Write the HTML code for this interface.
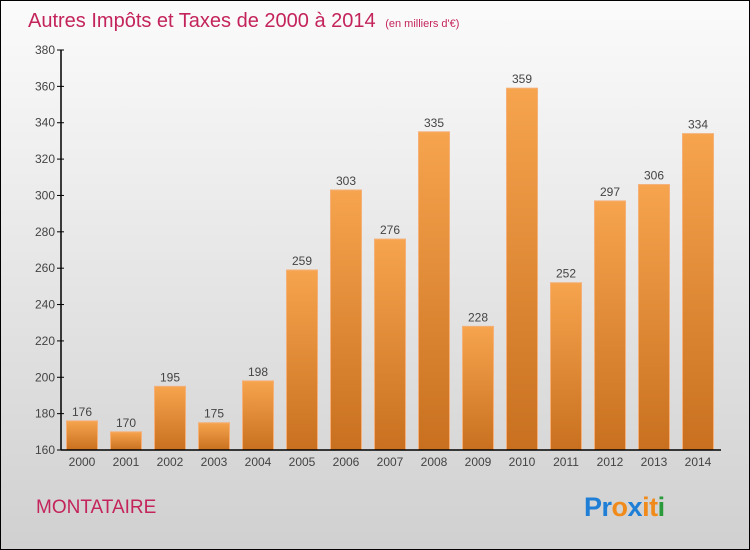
<!DOCTYPE html>
<html><head><meta charset="utf-8"><style>
body{margin:0}
svg{display:block;font-family:"Liberation Sans",sans-serif}
</style></head><body>
<svg width="750" height="550" viewBox="0 0 750 550">
<defs>
<linearGradient id="bg" x1="0" y1="0" x2="0" y2="1"><stop offset="0" stop-color="#fbfbfb"/><stop offset="1" stop-color="#d0d0d0"/></linearGradient>
<linearGradient id="bar" x1="0" y1="0" x2="0" y2="1"><stop offset="0" stop-color="#f7a44e"/><stop offset="1" stop-color="#c8701f"/></linearGradient>
</defs>
<rect x="0.5" y="0.5" width="749" height="549" fill="url(#bg)" stroke="#000"/>
<text x="28" y="27" font-size="20" fill="#c4245c">Autres Impôts et Taxes de 2000 à 2014 <tspan font-size="11" dx="4">(en milliers d'€)</tspan></text>
<g id="yaxis"></g><g id="bars"></g><g id="xaxis"></g>
<text x="36" y="513" font-size="19" fill="#c4245c">MONTATAIRE</text>
<text x="584" y="516" font-size="27" font-weight="bold" letter-spacing="-0.5"><tspan fill="#1f7fd6">Pr</tspan><tspan fill="#f08a1a">o</tspan><tspan fill="#1f7fd6">x</tspan><tspan fill="#f08a1a">it</tspan><tspan fill="#2a9a3a">i</tspan></text>
</svg>
<script>
const categories=["2000","2001","2002","2003","2004","2005","2006","2007","2008","2009","2010","2011","2012","2013","2014"];
const values=[176,170,195,175,198,259,303,276,335,228,359,252,297,306,334];
const yTicks=[160,180,200,220,240,260,280,300,320,340,360,380];
const NS="http://www.w3.org/2000/svg";
const y=v=>450-(v-160)*(400/220);
const x=i=>82+i*44;
function mk(t,a,p){const e=document.createElementNS(NS,t);for(const k in a)e.setAttribute(k,a[k]);p.appendChild(e);return e;}
const ya=document.getElementById('yaxis'),ba=document.getElementById('bars'),xa=document.getElementById('xaxis');
yTicks.forEach(t=>{
 const l=mk('line',{x1:57,x2:64,y1:y(t),y2:y(t),stroke:'#000'},ya);
 
 
 const tx=mk('text',{x:55,y:y(t)+4,'text-anchor':'end','font-size':12,fill:'#444'},ya);tx.textContent=t;
 
 
});
values.forEach((v,i)=>{
 const r=mk('rect',{x:x(i)-15.5,y:y(v),width:31,height:450-y(v),fill:'url(#bar)',stroke:'#f4b078','stroke-width':1},ba);
 
 
 const t=mk('text',{x:x(i),y:y(v)-5,'text-anchor':'middle','font-size':12,fill:'#444'},ba);t.textContent=v;
 
 
 const c=mk('text',{x:x(i),y:466,'text-anchor':'middle','font-size':12,fill:'#444'},xa);c.textContent=categories[i];
 
 
});
const ax=mk('line',{x1:61,x2:61,y1:50,y2:450,stroke:'#000','stroke-width':1.5},xa);


const bx=mk('line',{x1:61,x2:721,y1:450,y2:450,stroke:'#000','stroke-width':1.5},xa);


</script>
</body></html>
